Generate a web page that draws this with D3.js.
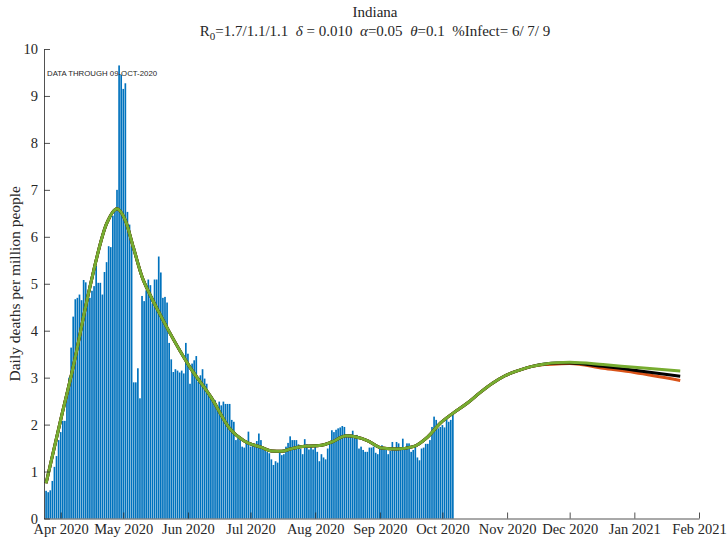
<!DOCTYPE html>
<html>
<head>
<meta charset="utf-8">
<script src="https://cdn.jsdelivr.net/npm/d3@7"></script>
<style>
  body { margin: 0; background: #fff; }
  svg { display: block; }
  text { font-family: "Liberation Serif", "Times New Roman", serif; fill: #262626; }
  .tick text { font-size: 14.5px; }
</style>
</head>
<body>
<svg id="chart" width="727" height="539"></svg>
<script>
// daily deaths per million, one value per day from 25-Mar-2020
const firstDay = "2020-03-25";
const dailyDeaths = [
  0.59, 0.56, 0.60, 0.80, 1.10, 1.33, 1.67, 1.84, 2.08, 2.08,
  2.68, 3.00, 3.64, 4.30, 4.67, 4.70, 4.77, 4.65, 5.08, 5.03,
  4.70, 4.70, 4.85, 4.95, 5.38, 5.02, 5.02, 4.77, 5.25, 5.46,
  5.80, 5.78, 6.45, 6.55, 7.00, 9.65, 9.45, 9.15, 9.27, 6.53,
  6.26, 5.80, 2.90, 2.90, 3.20, 2.56, 4.74, 4.63, 4.86, 5.09,
  4.97, 4.58, 5.09, 5.09, 5.58, 5.24, 4.70, 4.72, 4.60, 3.74,
  3.39, 3.12, 3.18, 3.15, 3.11, 3.15, 3.09, 3.74, 3.51, 2.87,
  3.30, 3.37, 3.46, 2.91, 3.05, 3.18, 2.98, 2.87, 2.66, 2.63,
  2.56, 2.52, 2.32, 2.49, 2.41, 2.49, 2.44, 2.44, 2.44, 2.10,
  2.06, 1.67, 1.71, 1.67, 1.53, 1.51, 1.63, 1.85, 1.53, 1.60,
  1.56, 1.65, 1.81, 1.67, 1.49, 1.46, 1.42, 1.39, 1.26, 1.14,
  1.22, 1.19, 1.40, 1.35, 1.37, 1.53, 1.61, 1.75, 1.67, 1.67,
  1.67, 1.58, 1.48, 1.37, 1.69, 1.58, 1.47, 1.53, 1.47, 1.57,
  1.42, 1.22, 1.37, 1.30, 1.26, 1.49, 1.60, 1.88, 1.84, 1.89,
  1.92, 1.94, 1.97, 1.95, 1.76, 1.75, 1.78, 1.87, 1.73, 1.78,
  1.49, 1.53, 1.46, 1.42, 1.42, 1.51, 1.51, 1.53, 1.40, 1.37,
  1.49, 1.56, 1.47, 1.46, 1.37, 1.44, 1.63, 1.47, 1.63, 1.60,
  1.46, 1.70, 1.46, 1.60, 1.60, 1.42, 1.46, 1.56, 1.30, 1.24,
  1.49, 1.51, 1.59, 1.59, 1.67, 1.95, 2.17, 2.10, 1.92, 1.95,
  1.99, 1.94, 2.15, 2.06, 2.10, 2.27
];

// model curves (three scenarios), read at these dates
const modelDates = [
  "2020-03-25", "2020-04-01", "2020-04-07", "2020-04-15", "2020-04-23", "2020-04-28",
  "2020-05-02", "2020-05-06", "2020-05-10", "2020-05-14", "2020-05-18", "2020-05-23",
  "2020-06-02", "2020-06-12", "2020-06-21", "2020-06-28", "2020-07-06", "2020-07-11",
  "2020-07-16", "2020-07-20", "2020-07-25", "2020-08-04", "2020-08-09", "2020-08-16",
  "2020-08-26", "2020-09-02", "2020-09-09", "2020-09-17", "2020-09-24", "2020-09-30",
  "2020-10-06", "2020-10-13", "2020-10-19", "2020-10-25", "2020-10-31", "2020-11-07",
  "2020-11-13", "2020-11-19", "2020-11-25", "2020-12-01", "2020-12-17", "2021-01-01",
  "2021-01-23"
];
const modelShared = [
  0.75, 2.10, 3.23, 4.93, 6.28, 6.60,
  6.35, 5.75, 5.15, 4.75, 4.40, 3.98,
  3.22, 2.59, 1.92, 1.65, 1.52, 1.44,
  1.43, 1.48, 1.53, 1.56, 1.63, 1.76,
  1.66, 1.50, 1.48, 1.53, 1.74, 2.03,
  2.24, 2.46, 2.68, 2.88, 3.04, 3.16,
  3.24
];
const modelGreen  = modelShared.concat([3.29, 3.32, 3.33, 3.28, 3.22, 3.14]);
const modelBlack  = modelShared.concat([3.29, 3.31, 3.31, 3.24, 3.16, 3.03]);
const modelOrange = modelShared.concat([3.28, 3.29, 3.30, 3.20, 3.11, 2.94]);

const yTicks = [0, 1, 2, 3, 4, 5, 6, 7, 8, 9, 10];
const xTickDates = ["2020-04-01", "2020-05-01", "2020-06-01", "2020-07-01", "2020-08-01", "2020-09-01",
                    "2020-10-01", "2020-11-01", "2020-12-01", "2021-01-01", "2021-02-01"];

(function() {
  const parse = d3.timeParse("%Y-%m-%d");
  const dayMs = 864e5;

  const svg = d3.select("#chart");
  const left = 44, right = 699, plotTop = 49, plotBottom = 518.5;

  const x = d3.scaleTime()
      .domain([parse("2020-03-24"), parse("2021-02-01")])
      .range([left, right]);
  const y = d3.scaleLinear().domain([0, 10]).range([plotBottom, plotTop]);

  const day0 = parse(firstDay);
  const barData = dailyDeaths.map((v, i) => ({ date: new Date(day0.getTime() + i * dayMs), value: v }));
  const dayPx = x(new Date(day0.getTime() + dayMs)) - x(day0);

  // bars
  svg.append("g").attr("class", "bars")
    .selectAll("rect")
    .data(barData)
    .join("rect")
      .attr("x", d => x(d.date) - dayPx * 0.4)
      .attr("width", dayPx * 0.8)
      .attr("y", d => y(d.value))
      .attr("height", d => y(0) - y(d.value))
      .attr("fill", "#0072bd");

  // model lines
  const line = d3.line()
      .x((d, i) => x(parse(modelDates[i])))
      .y(d => y(d))
      .curve(d3.curveMonotoneX);

  const series = [
    { values: modelOrange, color: "#d95319" },
    { values: modelBlack, color: "#000000" },
    { values: modelGreen, color: "#77ac30" }
  ];
  svg.append("g").attr("class", "lines")
    .selectAll("path")
    .data(series)
    .join("path")
      .attr("d", d => line(d.values))
      .attr("fill", "none")
      .attr("stroke", d => d.color)
      .attr("stroke-width", 3)
      .attr("stroke-linejoin", "round");

  // axes
  const xAxis = d3.axisBottom(x)
      .tickValues(xTickDates.map(parse))
      .tickFormat(d3.timeFormat("%b %Y"))
      .tickSizeInner(-6)
      .tickSizeOuter(0)
      .tickPadding(5);
  const gx = svg.append("g")
      .attr("transform", `translate(0,${plotBottom})`)
      .call(xAxis);

  const yAxis = d3.axisLeft(y)
      .tickValues(yTicks)
      .tickSizeInner(-6)
      .tickSizeOuter(0)
      .tickPadding(6);
  const gy = svg.append("g")
      .attr("transform", `translate(${left},0)`)
      .call(yAxis);

  [gx, gy].forEach(g => {
    g.attr("font-family", null).attr("font-size", null);
    g.selectAll(".domain, .tick line").attr("stroke", "#262626").attr("stroke-width", 0.8);
    g.selectAll(".tick text").attr("fill", "#262626");
  });

  // y label
  svg.append("text")
      .attr("transform", `translate(20,${(plotTop + plotBottom) / 2}) rotate(-90)`)
      .attr("text-anchor", "middle")
      .attr("font-size", "15.5px")
      .text("Daily deaths per million people");

  // titles
  svg.append("text")
      .attr("x", 375).attr("y", 17)
      .attr("text-anchor", "middle")
      .attr("font-size", "15px")
      .text("Indiana");

  const sub = svg.append("text")
      .attr("x", 375).attr("y", 36)
      .attr("text-anchor", "middle")
      .attr("font-size", "15px")
      .style("white-space", "pre");
  sub.append("tspan").text("R");
  sub.append("tspan").attr("dy", 4).attr("font-size", "11px").text("0");
  sub.append("tspan").attr("dy", -4).text("=1.7/1.1/1.1  ");
  sub.append("tspan").attr("font-style", "italic").text("δ");
  sub.append("tspan").text(" = 0.010  ");
  sub.append("tspan").attr("font-style", "italic").text("α");
  sub.append("tspan").text("=0.05  ");
  sub.append("tspan").attr("font-style", "italic").text("θ");
  sub.append("tspan").text("=0.1  %Infect= 6/ 7/ 9");

  svg.append("text")
      .attr("x", 47).attr("y", 76)
      .attr("font-size", "7.8px")
      .style("font-family", "'Liberation Sans', Arial, sans-serif")
      .text("DATA THROUGH 09-OCT-2020");
})();
</script>
</body>
</html>
